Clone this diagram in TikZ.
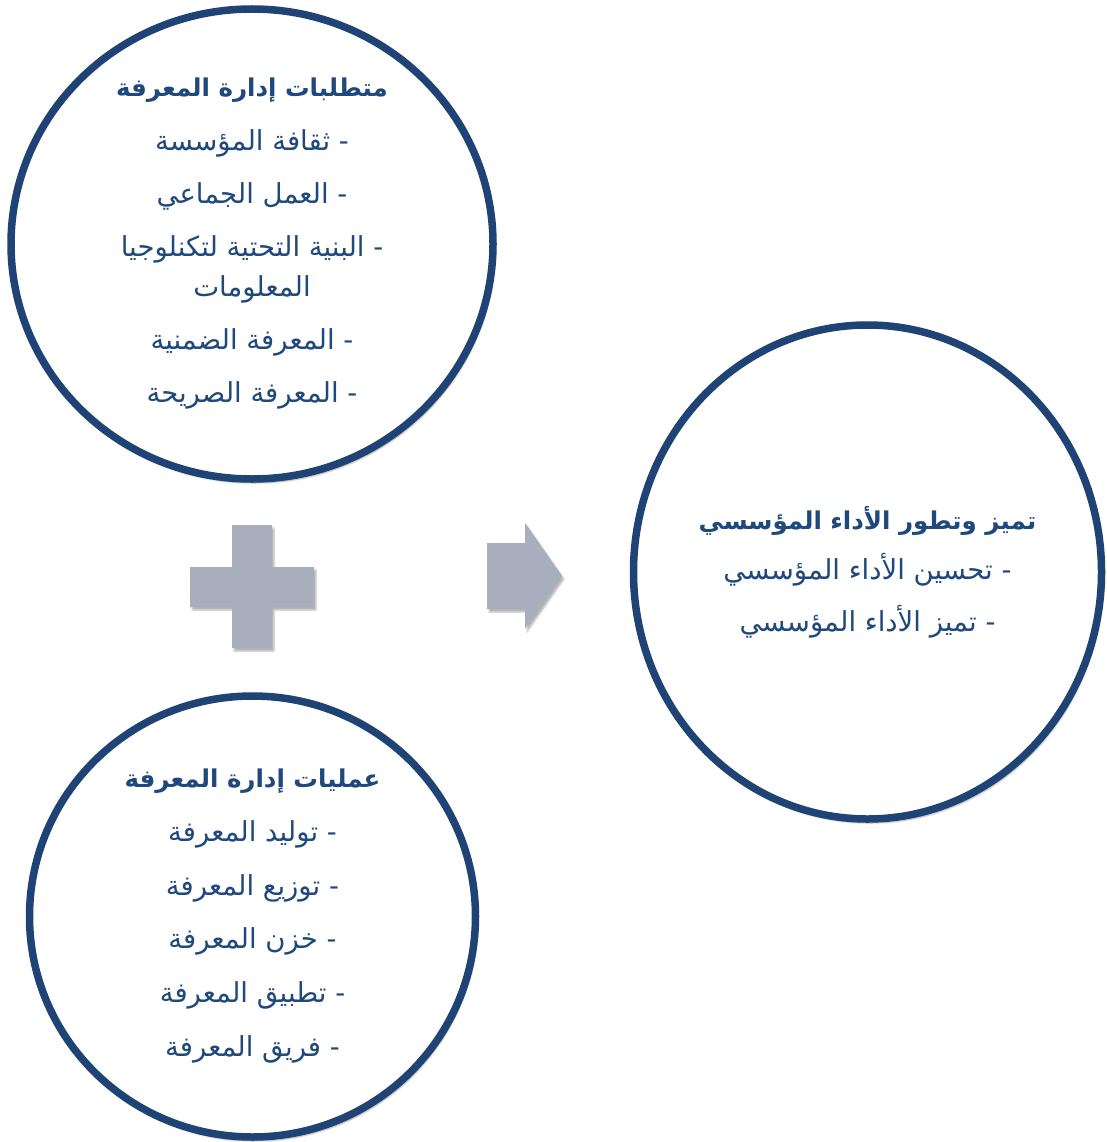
\documentclass[tikz,border=0pt]{standalone}
\usepackage{fontspec}
\usetikzlibrary{shapes.geometric,shadows.blur}
\TeXXeTstate=1
\newfontfamily\arabicfont[Script=Arabic]{DejaVu Sans}
\newcommand{\arline}[1]{\beginR #1\endR}
\newcommand{\arhead}[1]{{\fontsize{24.5}{40}\selectfont\bfseries\beginR #1\endR}}
\definecolor{ringblue}{HTML}{1F4374}
\definecolor{textblue}{HTML}{1F497D}
\definecolor{signgray}{HTML}{A9AEBC}
\tikzset{
  ring/.style={ellipse, draw=ringblue, line width=7.5pt, fill=white,
    blur shadow={shadow xshift=2pt, shadow yshift=-4pt, shadow blur steps=6, shadow opacity=35}},
  ringtext/.style={align=center, text=textblue,
    font=\arabicfont\fontsize{27.5}{40}\selectfont},
  sign/.style={fill=signgray, draw=none,
    blur shadow={shadow xshift=2pt, shadow yshift=-3pt, shadow blur steps=4, shadow opacity=30}}
}
\begin{document}
\begin{tikzpicture}[x=1pt,y=-1pt]
\useasboundingbox (0,0) rectangle (1107,1142);

% the three circles
\node[ring, minimum width=482pt, minimum height=470pt] (req) at (252,244) {};
\node[ring, minimum width=446pt, minimum height=441pt] (proc) at (252.5,916.5) {};
\node[ring, minimum width=468pt, minimum height=494pt] (perf) at (867.5,572) {};

% requirements
\node[ringtext] (reqtext) at (req.center) {%
  \arhead{متطلبات إدارة المعرفة}\\[14pt]
  \arline{- ثقافة المؤسسة}\\[13pt]
  \arline{- العمل الجماعي}\\[13pt]
  \arline{- البنية التحتية لتكنلوجيا}\\
  \arline{المعلومات}\\[13pt]
  \arline{- المعرفة الضمنية}\\[13pt]
  \arline{- المعرفة الصريحة}};

% processes
\node[ringtext] (proctext) at (proc.center) {%
  \arhead{عمليات إدارة المعرفة}\\[14pt]
  \arline{- توليد المعرفة}\\[14pt]
  \arline{- توزيع المعرفة}\\[13pt]
  \arline{- خزن المعرفة}\\[14pt]
  \arline{- تطبيق المعرفة}\\[14pt]
  \arline{- فريق المعرفة}};

% outcome
\node[ringtext] (perftext) at (perf.center) {%
  \arhead{تميز وتطور الأداء المؤسسي}\\[10pt]
  \arline{- تحسين الأداء المؤسسي}\\[12pt]
  \arline{- تميز الأداء المؤسسي}};

% plus sign
\path[sign] (232,525) -- (272,525) -- (272,567) -- (314,567) -- (314,607)
  -- (272,607) -- (272,648) -- (232,648) -- (232,607) -- (190,607)
  -- (190,567) -- (232,567) -- cycle;

% block arrow
\path[sign] (487,543) -- (525,543) -- (525,523) -- (562,576) -- (525,629)
  -- (525,609) -- (487,609) -- cycle;
\end{tikzpicture}
\end{document}
